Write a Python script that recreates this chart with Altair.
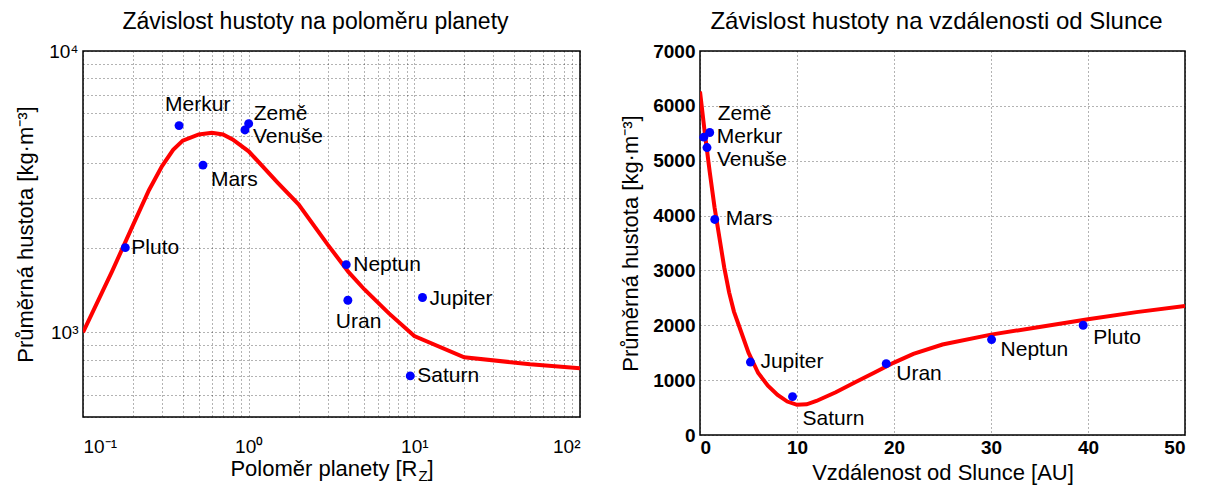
import altair as alt
import pandas as pd

# ---------------- data ----------------
planets = ["Merkur", "Venuše", "Země", "Mars", "Jupiter", "Saturn", "Uran", "Neptun", "Pluto"]
radius = [0.38, 0.95, 1.0, 0.53, 11.2, 9.45, 3.97, 3.88, 0.18]          # [R_Z]
distance = [0.39, 0.72, 1.0, 1.52, 5.2, 9.54, 19.2, 30.06, 39.5]      # [AU]
density = [5430, 5240, 5515, 3930, 1330, 700, 1300, 1740, 2000]      # [kg m^-3]

# fitted curve, left panel (radius -> density)
fit_r = [0.1, 0.15, 0.2, 0.25, 0.3, 0.35, 0.4, 0.5, 0.6, 0.7, 0.8, 1.0, 1.5, 2, 3, 4, 5, 7, 10, 20, 50, 100]
fit_r_density = [1000, 1650, 2400, 3200, 3900, 4450, 4800, 5050, 5120, 5050, 4850, 4400, 3400, 2850,
                 2050, 1640, 1420, 1170, 970, 815, 770, 745]

# fitted curve, right panel (distance -> density)
fit_a = [0, 0.5, 1, 1.5, 2, 2.5, 3, 3.5, 4, 5, 6, 7, 8, 9, 10, 11, 12, 14, 16, 18, 20, 22, 25, 30, 35, 40, 45, 50]
fit_a_density = [6260, 5500, 4800, 4150, 3600, 3050, 2600, 2250, 2000, 1500, 1130, 900, 730, 610, 550, 560,
                 620, 780, 960, 1140, 1320, 1480, 1650, 1830, 1970, 2110, 2240, 2350]

# axis ticks / labels
left_x_ticks = [0.1, 0.2, 0.3, 0.4, 0.5, 0.6, 0.7, 0.8, 0.9,
                1, 2, 3, 4, 5, 6, 7, 8, 9,
                10, 20, 30, 40, 50, 60, 70, 80, 90, 100]
left_y_ticks = [500, 600, 700, 800, 900, 1000, 2000, 3000, 4000, 5000, 6000, 7000, 8000, 9000, 10000]
right_x_ticks = [0, 10, 20, 30, 40, 50]
right_y_ticks = [0, 1000, 2000, 3000, 4000, 5000, 6000, 7000]

# label placement (pixel offsets of the planet names from their dots)
left_offsets = {
    "Merkur": (-14, -21), "Země": (5, -10), "Venuše": (8, 7), "Mars": (8, 15),
    "Pluto": (6, 0), "Neptun": (7, 0), "Uran": (-12, 22), "Jupiter": (7, 2), "Saturn": (7, 0),
}
right_offsets = {
    "Země": (8, -18), "Merkur": (13, 0), "Venuše": (10, 12), "Mars": (11, 0),
    "Jupiter": (10, 0), "Saturn": (10, 22), "Uran": (10, 10), "Neptun": (9, 10), "Pluto": (10, 13),
}

FONT = "Liberation Sans"
RED = "#ff0000"
BLUE = "#0000ff"

df = pd.DataFrame({"planet": planets, "radius": radius, "distance": distance, "density": density})
curve_left = pd.DataFrame({"x": fit_r, "y": fit_r_density})
curve_right = pd.DataFrame({"x": fit_a, "y": fit_a_density})

LW, LH = 497, 366
RW, RH = 485, 384

# ---------------- left panel ----------------
xl_scale = alt.Scale(type="log", domain=[0.1, 100], nice=False)
yl_scale = alt.Scale(type="log", domain=[500, 10000], nice=False)
xl_axis = alt.Axis(values=left_x_ticks, title=None, labelPadding=20, labelFontSize=19,
                   labelExpr="datum.value == 0.1 ? '10⁻¹' : datum.value == 1 ? '10⁰' : datum.value == 10 ? '10¹' : datum.value == 100 ? '10²' : ''")
yl_axis = alt.Axis(values=left_y_ticks, title="Průměrná hustota [kg·m⁻³]", labelPadding=5, titlePadding=11,
                   labelFontSize=19,
                   labelExpr="datum.value == 1000 ? '10³' : datum.value == 10000 ? '10⁴' : ''")

l_line = alt.Chart(curve_left).mark_line(color=RED, strokeWidth=4, clip=True).encode(
    x=alt.X("x:Q", scale=xl_scale, axis=xl_axis),
    y=alt.Y("y:Q", scale=yl_scale, axis=yl_axis),
)
l_pts = alt.Chart(df).mark_circle(color=BLUE, size=80, opacity=1).encode(
    x=alt.X("radius:Q", scale=xl_scale),
    y=alt.Y("density:Q", scale=yl_scale),
)
l_labels = [
    alt.Chart(df).transform_filter(alt.datum.planet == p).mark_text(
        align="left", baseline="middle", dx=dx, dy=dy, font=FONT, fontSize=21, color="black"
    ).encode(x=alt.X("radius:Q", scale=xl_scale), y=alt.Y("density:Q", scale=yl_scale), text="planet:N")
    for p, (dx, dy) in left_offsets.items()
]
# x-axis title with subscript Z
xt_y = LH + 52
l_xt1 = alt.Chart(pd.DataFrame({"t": ["Poloměr planety [R"]})).mark_text(
    align="right", baseline="middle", font=FONT, fontSize=22, color="black"
).encode(x=alt.value(LW / 2 + 86), y=alt.value(xt_y), text="t:N")
l_xt2 = alt.Chart(pd.DataFrame({"t": ["Z"]})).mark_text(
    align="left", baseline="middle", font=FONT, fontSize=15, color="black"
).encode(x=alt.value(LW / 2 + 87), y=alt.value(xt_y + 7), text="t:N")
l_xt3 = alt.Chart(pd.DataFrame({"t": ["]"]})).mark_text(
    align="left", baseline="middle", font=FONT, fontSize=22, color="black"
).encode(x=alt.value(LW / 2 + 96), y=alt.value(xt_y), text="t:N")

left = alt.layer(l_line, l_pts, *l_labels, l_xt1, l_xt2, l_xt3).properties(
    width=LW, height=LH,
    title=alt.TitleParams("Závislost hustoty na poloměru planety", dx=-16, offset=8),
)

# ---------------- right panel ----------------
xr_scale = alt.Scale(domain=[0, 50], nice=False)
yr_scale = alt.Scale(domain=[0, 7000], nice=False)
xr_axis = alt.Axis(values=right_x_ticks, title="Vzdálenost od Slunce [AU]", labelPadding=3, format="d",
                   labelFontWeight="bold", labelFontSize=19, titlePadding=5)
yr_axis = alt.Axis(values=right_y_ticks, title="Průměrná hustota [kg·m⁻³]", labelPadding=5, titlePadding=10,
                   labelFontWeight="bold", labelFontSize=19, format="d")

r_line = alt.Chart(curve_right).mark_line(color=RED, strokeWidth=4, clip=True).encode(
    x=alt.X("x:Q", scale=xr_scale, axis=xr_axis),
    y=alt.Y("y:Q", scale=yr_scale, axis=yr_axis),
)
r_pts = alt.Chart(df).mark_circle(color=BLUE, size=80, opacity=1).encode(
    x=alt.X("distance:Q", scale=xr_scale),
    y=alt.Y("density:Q", scale=yr_scale),
)
r_labels = [
    alt.Chart(df).transform_filter(alt.datum.planet == p).mark_text(
        align="left", baseline="middle", dx=dx, dy=dy, font=FONT, fontSize=21, color="black"
    ).encode(x=alt.X("distance:Q", scale=xr_scale), y=alt.Y("density:Q", scale=yr_scale), text="planet:N")
    for p, (dx, dy) in right_offsets.items()
]

right = alt.layer(r_line, r_pts, *r_labels).properties(
    width=RW, height=RH,
    title=alt.TitleParams("Závislost hustoty na vzdálenosti od Slunce", offset=8, fontSize=24, dx=-6),
)

chart = alt.hconcat(left, right, spacing=37).properties(
    padding={"left": 5, "top": 1, "right": 5, "bottom": 5}
).configure_view(
    stroke="black", strokeWidth=1.5
).configure_axis(
    labelFont=FONT, labelFontSize=18, labelColor="black",
    titleFont=FONT, titleFontSize=22, titleFontWeight="normal", titleColor="black",
    grid=True, gridColor="black", gridOpacity=0.6, gridDash=[1, 3], gridWidth=1,
    domain=False, ticks=False, tickSize=0,
).configure_title(
    font=FONT, fontSize=23, fontWeight="normal", color="black", anchor="middle"
)

chart.save("out.html", embed_options={"renderer": "svg", "actions": False})
